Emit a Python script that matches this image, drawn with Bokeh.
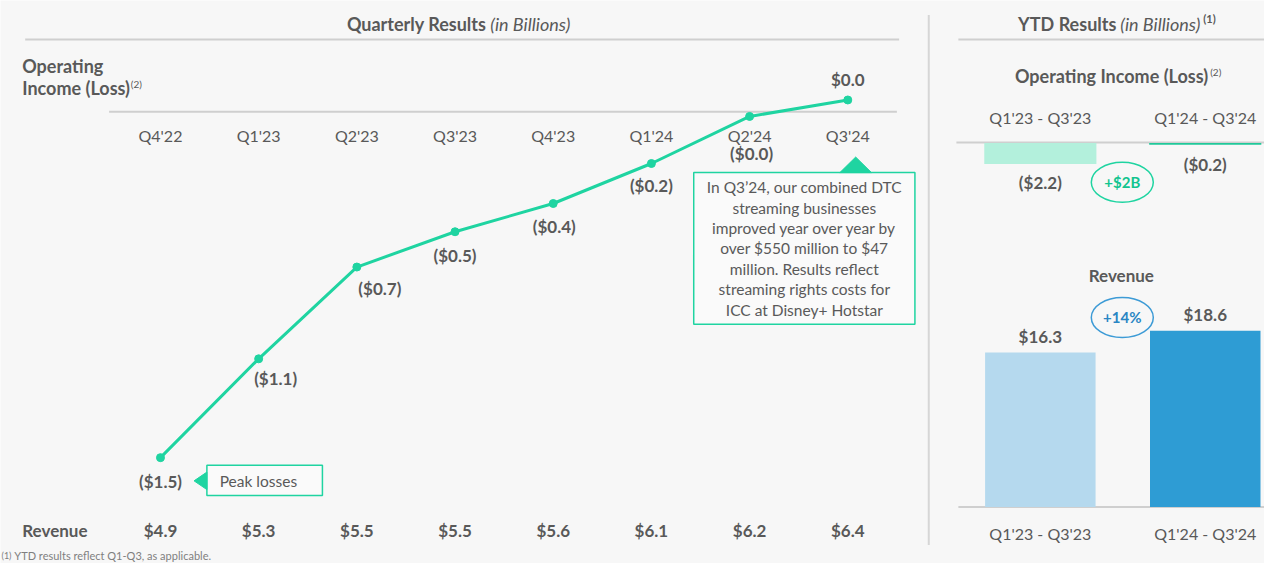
from bokeh.plotting import figure
from bokeh.models import Range1d, ColumnDataSource
from bokeh.core.properties import value
from bokeh.embed import file_html
from bokeh.resources import INLINE

# ---------------- data ----------------
quarters = ["Q4'22", "Q1'23", "Q2'23", "Q3'23", "Q4'23", "Q1'24", "Q2'24", "Q3'24"]
op_income = [-1.47, -1.05, -0.66, -0.51, -0.39, -0.22, -0.02, 0.05]
op_income_labels = ["($1.5)", "($1.1)", "($0.7)", "($0.5)", "($0.4)", "($0.2)", "($0.0)", "$0.0"]
revenue = [4.9, 5.3, 5.5, 5.5, 5.6, 6.1, 6.2, 6.4]
revenue_labels = ["$4.9", "$5.3", "$5.5", "$5.5", "$5.6", "$6.1", "$6.2", "$6.4"]

ytd_periods = ["Q1'23 - Q3'23", "Q1'24 - Q3'24"]
ytd_op_income = [-2.2, -0.2]
ytd_op_labels = ["($2.2)", "($0.2)"]
ytd_revenue = [16.3, 18.6]
ytd_rev_labels = ["$16.3", "$18.6"]

callout_lines = [
    "In Q3\u201924, our combined DTC",
    "streaming businesses",
    "improved year over year by",
    "over $550 million to $47",
    "million. Results reflect",
    "streaming rights costs for",
    "ICC at Disney+ Hotstar",
]

# ---------------- layout (reference-pixel coordinates) ----------------
W, H = 1264, 563          # figure size in pixels
RW, RH = 1280, 579        # coordinate space of the page
FONT = value("Lato")
GRAY = "#595959"
TEAL = "#1fd4a1"
RULE = "#cfcfcf"
BG = "#f7f7f7"

p = figure(width=W, height=H, output_backend="svg", toolbar_location=None,
           x_range=Range1d(0, RW), y_range=Range1d(RH, 0),
           x_axis_location=None, y_axis_location=None, min_border=0,
           background_fill_color=BG, border_fill_color=BG, outline_line_color=None)
p.grid.visible = False

def lin(px0, px_per_unit, lo_px, hi_px):
    return Range1d(start=(lo_px - px0) / px_per_unit, end=(hi_px - px0) / px_per_unit)

# quarterly line-chart scales
p.extra_x_ranges["qx"] = lin(162, 99.43, 0, RW)
p.extra_y_ranges["oi"] = lin(114.4, -242.0, RH, 0)
# YTD scales
p.extra_x_ranges["yx"] = lin(1053, 167, 0, RW)
p.extra_y_ranges["oy"] = lin(146.5, -9.8, RH, 0)
p.extra_y_ranges["ry"] = lin(521, -9.75, RH, 0)

def txt(x, y, s, size=17, style="normal", align="center", color=GRAY, baseline="middle", **kw):
    p.text(x=[x], y=[y], text=[s], text_font=FONT, text_font_size=f"{size}px",
           text_font_style=style, text_align=align, text_baseline=baseline,
           text_color=color, **kw)

# ---------------- rules ----------------
p.segment(x0=[25, 970, 968, 970], y0=[40, 40, 146, 521], x1=[910, RW, RW, RW],
          y1=[40, 40, 146, 521], line_color=RULE, line_width=2)
p.segment(x0=[940], y0=[15], x1=[940], y1=[560], line_color="#d6d6d6", line_width=2)
# zero line of the quarterly chart
p.segment(x0=[-0.523], y0=[0], x1=[7.5], y1=[0], line_color=RULE, line_width=2,
          x_range_name="qx", y_range_name="oi")

# ---------------- titles ----------------
txt(492, 24, "Quarterly Results", 18, "bold", "right")
txt(496, 24, "(in Billions)", 18, "italic", "left")
txt(1130, 24, "YTD Results", 18, "bold", "right")
txt(1134, 24, "(in Billions)", 18, "italic", "left")
txt(1218, 19, "(1)", 11, "bold", "left")

txt(22, 67, "Operating", 18, "bold", "left")
txt(22, 90, "Income (Loss)", 18, "bold", "left")
txt(132, 86, "(2)", 10, "normal", "left")

txt(1223, 78, "Operating Income (Loss)", 18, "bold", "right")
txt(1225, 74, "(2)", 10, "normal", "left")

# ---------------- quarterly line ----------------
qsrc = ColumnDataSource(dict(x=list(range(len(quarters))), q=quarters, oi=op_income,
                             oil=op_income_labels, rl=revenue_labels,
                             q_y=[139] * len(quarters), r_y=[545] * len(quarters)))
p.line("x", "oi", source=qsrc, line_color=TEAL, line_width=3,
       x_range_name="qx", y_range_name="oi")
p.scatter("x", "oi", source=qsrc, size=8, fill_color=TEAL, line_color=TEAL,
          x_range_name="qx", y_range_name="oi")

# quarter tick labels and revenue row
p.text("x", "q_y", text="q", source=qsrc, x_range_name="qx", text_font=FONT,
       text_font_size="16px", text_align="center", text_baseline="middle", text_color=GRAY)
p.text("x", "r_y", text="rl", source=qsrc, x_range_name="qx", text_font=FONT,
       text_font_size="17px", text_font_style="bold", text_align="center",
       text_baseline="middle", text_color=GRAY)
txt(22, 545, "Revenue", 17, "bold", "left")

# point labels (screen offsets from each point)
label_dx = [0, 17, 23, 0, 1, 0, 2, 0]
label_dy = [24, 20, 21, 24, 23, 22, 37, -20]
lsrc = ColumnDataSource(dict(x=list(range(len(quarters))), oi=op_income,
                             oil=op_income_labels, dx=label_dx, dy=label_dy))
p.text("x", "oi", text="oil", source=lsrc, x_offset="dx", y_offset="dy",
       x_range_name="qx", y_range_name="oi", text_font=FONT, text_font_size="17px",
       text_font_style="bold", text_align="center", text_baseline="middle", text_color=GRAY)

# ---------------- callouts ----------------
# Q3'24 note box
p.quad(left=[702], right=[926], top=[177], bottom=[333], fill_color="#fafafa",
       line_color=TEAL, line_width=1.5)
p.patch(x=[850, 866, 882], y=[177, 161, 177], fill_color=TEAL, line_color=TEAL)
for i, s in enumerate(callout_lines):
    txt(814, 192 + 21 * i, s, 15.5, "normal", "center")

# Peak losses box
p.quad(left=[209], right=[326], top=[478], bottom=[509], fill_color="#fafafa",
       line_color=TEAL, line_width=1.5)
p.patch(x=[209, 196, 209], y=[485, 494, 503], fill_color=TEAL, line_color=TEAL)
txt(222, 494, "Peak losses", 15.5, "normal", "left")

# ---------------- YTD operating income ----------------
ysrc = ColumnDataSource(dict(x=list(range(len(ytd_periods))), per=ytd_periods,
                             oi=ytd_op_income, oil=ytd_op_labels,
                             rev=ytd_revenue, rvl=ytd_rev_labels,
                             oic=["#b3f0dc", "#1fc99a"], rvc=["#b5d9ee", "#2e9cd4"],
                             per_y=[120, 120], per2_y=[548, 548], oil_dy=[19, 20]))
p.vbar(x="x", top=0, bottom="oi", width=0.68, source=ysrc, fill_color="oic",
       line_color=None, x_range_name="yx", y_range_name="oy")
p.text("x", "per_y", text="per", source=ysrc, x_range_name="yx", text_font=FONT,
       text_font_size="16px", text_align="center", text_baseline="middle", text_color=GRAY)
p.text("x", "oi", text="oil", source=ysrc, y_offset="oil_dy", x_range_name="yx",
       y_range_name="oy", text_font=FONT, text_font_size="17px", text_font_style="bold",
       text_align="center", text_baseline="middle", text_color=GRAY)

p.ellipse(x=[1136], y=[187], width=62, height=40, width_units="screen",
          height_units="screen", fill_color=None, line_color=TEAL, line_width=1.5)
txt(1136, 187, "+$2B", 15, "bold", "center", color="#12c48f")

# ---------------- YTD revenue ----------------
txt(1135, 283, "Revenue", 17, "bold", "center")
p.vbar(x="x", top="rev", bottom=0, width=0.67, source=ysrc, fill_color="rvc",
       line_color=None, x_range_name="yx", y_range_name="ry")
p.text("x", "rev", text="rvl", source=ysrc, y_offset=-16, x_range_name="yx",
       y_range_name="ry", text_font=FONT, text_font_size="17px", text_font_style="bold",
       text_align="center", text_baseline="middle", text_color=GRAY)
p.text("x", "per2_y", text="per", source=ysrc, x_range_name="yx", text_font=FONT,
       text_font_size="16px", text_align="center", text_baseline="middle", text_color=GRAY)

p.ellipse(x=[1136], y=[326], width=62, height=40, width_units="screen",
          height_units="screen", fill_color=None, line_color="#3d9bd6", line_width=1.5)
txt(1136, 326, "+14%", 15, "bold", "center", color="#2a86c4")

# footnote
txt(1, 571, "(1)", 9, "normal", "left", color="#7f7f7f")
txt(14, 571, "YTD results reflect Q1-Q3, as applicable.", 11, "normal", "left",
    color="#7f7f7f")

open("out.html", "w").write(file_html(p, INLINE))
